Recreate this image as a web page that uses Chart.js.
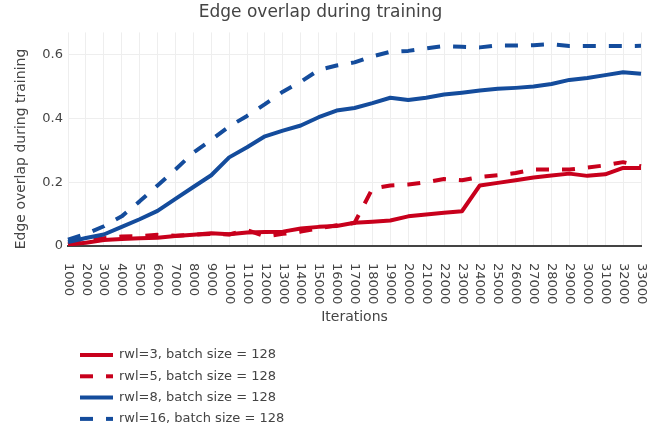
<!DOCTYPE html>
<html>
<head>
<meta charset="utf-8">
<script src="https://cdn.jsdelivr.net/npm/chart.js@4/dist/chart.umd.min.js"></script>
<style>
  body { margin: 0; background: #fff; }
  #wrap { width: 670px; height: 431px; }
</style>
</head>
<body>
<div id="wrap"><canvas id="overlapChart" width="670" height="431"></canvas></div>
<script>
// Iterations (x categories)
const iterations = [
  "1000", "2000", "3000", "4000", "5000", "6000", "7000", "8000", "9000", "10000",
  "11000", "12000", "13000", "14000", "15000", "16000", "17000", "18000", "19000", "20000",
  "21000", "22000", "23000", "24000", "25000", "26000", "27000", "28000", "29000", "30000",
  "31000", "32000", "33000"
];

// edge overlap per run
const rwl3 = [0.005, 0.01, 0.019, 0.022, 0.024, 0.026, 0.031, 0.035, 0.04, 0.037, 0.042,
  0.044, 0.045, 0.055, 0.06, 0.063, 0.073, 0.076, 0.08, 0.093, 0.099, 0.104, 0.109,
  0.19, 0.198, 0.206, 0.215, 0.221, 0.227, 0.22, 0.225, 0.245, 0.245];
const rwl5 = [0.005, 0.016, 0.024, 0.03, 0.031, 0.035, 0.032, 0.036, 0.038, 0.036, 0.05,
  0.03, 0.038, 0.045, 0.055, 0.065, 0.072, 0.18, 0.19, 0.193, 0.2, 0.21, 0.206,
  0.217, 0.222, 0.229, 0.24, 0.24, 0.24, 0.246, 0.253, 0.263, 0.25];
const rwl8 = [0.012, 0.025, 0.036, 0.06, 0.084, 0.11, 0.148, 0.185, 0.222, 0.278, 0.31,
  0.344, 0.362, 0.378, 0.404, 0.425, 0.433, 0.448, 0.465, 0.458, 0.465, 0.475, 0.481,
  0.488, 0.493, 0.496, 0.5, 0.508, 0.521, 0.527, 0.536, 0.545, 0.54];
const rwl16 = [0.02, 0.038, 0.062, 0.093, 0.14, 0.19, 0.24, 0.293, 0.333, 0.375, 0.408,
  0.445, 0.484, 0.515, 0.552, 0.566, 0.576, 0.595, 0.609, 0.612, 0.62, 0.627, 0.625,
  0.623, 0.629, 0.629, 0.63, 0.633, 0.627, 0.627, 0.627, 0.627, 0.628];

const yTicks = [0, 0.2, 0.4, 0.6];
const yTitle = "Edge overlap during training";

const RED = "rgb(200, 0, 28)";
const BLUE = "rgb(20, 76, 156)";
const TEXT = "#444";
const FONT = "'DejaVu Sans', Verdana, sans-serif";

Chart.defaults.font.family = FONT;
Chart.defaults.color = TEXT;

// x labels rotated clockwise (top to bottom), like the original
// + y title drawn by hand so it sits a bit lower
const axisTextPlugin = {
  id: "axisText",
  afterDraw(chart) {
    const ctx = chart.ctx;
    const sx = chart.scales.x;
    ctx.save();
    ctx.font = "13px " + FONT;
    ctx.fillStyle = TEXT;
    ctx.textAlign = "left";
    ctx.textBaseline = "middle";
    sx.ticks.forEach((t, i) => {
      const x = sx.getPixelForTick(i);
      ctx.save();
      ctx.translate(x, sx.top + 17);
      ctx.rotate(Math.PI / 2);
      ctx.fillText(chart.data.labels[i], 0, 0);
      ctx.restore();
    });
    ctx.font = "14px " + FONT;
    ctx.textAlign = "center";
    ctx.translate(21, 149);
    ctx.rotate(-Math.PI / 2);
    ctx.fillText(yTitle, 0, 0);
    ctx.restore();
  }
};

// legend as a single column under the axis
const legendPlugin = {
  id: "columnLegend",
  afterDraw(chart) {
    const ctx = chart.ctx;
    ctx.save();
    ctx.font = "13px " + FONT;
    ctx.textBaseline = "middle";
    chart.data.datasets.forEach((ds, i) => {
      const y = 355 + i * 21.3;
      ctx.strokeStyle = ds.borderColor;
      ctx.lineWidth = 4;
      ctx.setLineDash(ds.borderDash || []);
      ctx.beginPath();
      ctx.moveTo(80, y);
      ctx.lineTo(113, y);
      ctx.stroke();
      ctx.setLineDash([]);
      ctx.fillStyle = TEXT;
      ctx.fillText(ds.label, 119, y);
    });
    ctx.restore();
  }
};

function line(label, data, color, dash, order) {
  return {
    label: label,
    data: data,
    borderColor: color,
    backgroundColor: color,
    borderWidth: 4,
    borderDash: dash,
    borderJoinStyle: "round",
    pointRadius: 0,
    tension: 0,
    fill: false,
    order: order
  };
}

new Chart(document.getElementById("overlapChart"), {
  type: "line",
  data: {
    labels: iterations,
    datasets: [
      line("rwl=3, batch size = 128", rwl3, RED, [], 4),
      line("rwl=5, batch size = 128", rwl5, RED, [13, 13], 3),
      line("rwl=8, batch size = 128", rwl8, BLUE, [], 2),
      line("rwl=16, batch size = 128", rwl16, BLUE, [13, 13], 1)
    ]
  },
  options: {
    responsive: false,
    animation: false,
    layout: { padding: { top: 2, right: 29, bottom: 100, left: 0 } },
    plugins: {
      legend: { display: false },
      tooltip: { enabled: false },
      title: {
        display: true,
        text: "Edge overlap during training",
        color: TEXT,
        font: { size: 17, weight: "normal" },
        padding: { top: 0, bottom: 10 }
      }
    },
    scales: {
      x: {
        offset: false,
        grid: { color: "#eee", lineWidth: 1, drawTicks: false },
        border: { display: true, color: "#444", width: 2 },
        ticks: { display: false },
        title: {
          display: true,
          text: "Iterations",
          color: TEXT,
          font: { size: 14 },
          padding: { top: 0, bottom: 5 }
        },
        afterFit(scale) { scale.height = 85; }
      },
      y: {
        min: 0,
        max: 0.67,
        grid: { color: "#eee", lineWidth: 1, drawTicks: false },
        border: { display: false },
        ticks: {
          padding: 5,
          font: { size: 13 },
          callback: (v) => String(v)
        },
        afterBuildTicks(scale) {
          scale.ticks = yTicks.map((v) => ({ value: v }));
        },
        afterFit(scale) { scale.width = 68; }
      }
    }
  },
  plugins: [axisTextPlugin, legendPlugin]
});
</script>
</body>
</html>
